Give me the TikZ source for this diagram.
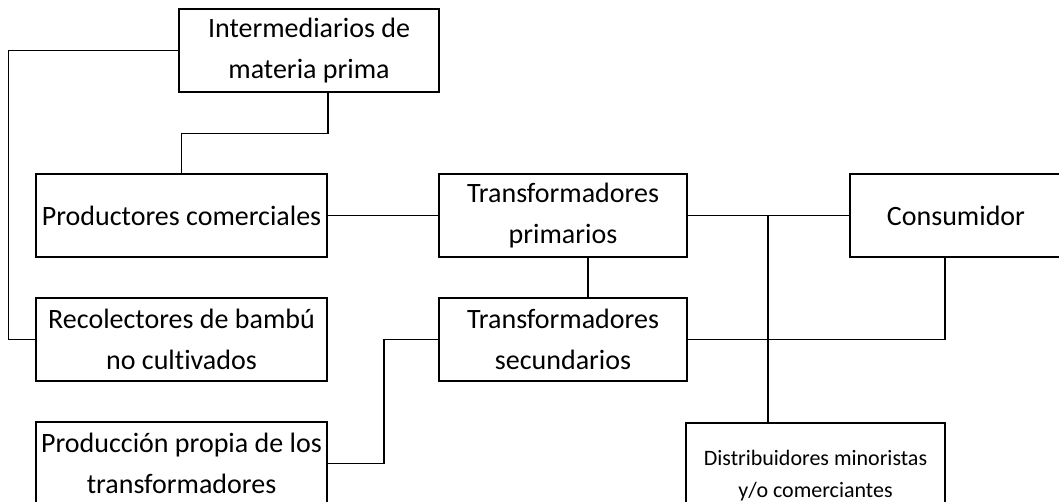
\documentclass[tikz,border=0pt]{standalone}
\usepackage{fontspec}
\setmainfont{Carlito}[Ligatures=NoCommon]
\usetikzlibrary{positioning}

\begin{document}
\begin{tikzpicture}[x=1pt, y=-1pt, line width=1.5pt,
    caja/.style={draw, align=center, inner sep=0pt, minimum height=83pt,
      font=\fontsize{28}{41}\selectfont},
    cajachica/.style={caja, font=\fontsize{22}{32}\selectfont}]

  \clip (0,0) rectangle (1059,502);

  % Eslabones de la izquierda
  \node[caja, minimum width=260pt] (inter) at (309,50.5) {Intermediarios de\\materia prima};
  \node[caja, minimum width=291pt] (prod) at (181.5,215.5) {Productores comerciales};
  \node[caja, minimum width=291pt] (recol) at (181.5,339.5) {Recolectores de bambú\\no cultivados};
  \node[caja, minimum width=291pt] (propia) at (181.5,463.5) {Producción propia de los\\transformadores};

  % Transformadores
  \node[caja, minimum width=248pt] (tprim) at (563,215.5) {Transformadores\\primarios};
  \node[caja, minimum width=248pt] (tsec) at (563,339.5) {Transformadores\\secundarios};

  % Consumo y distribucion
  \node[caja, minimum width=212pt] (cons) at (956,215.5) {Consumidor};
  \node[cajachica, minimum width=259pt, minimum height=106pt] (dist) at (815.5,476) {Distribuidores minoristas\\y/o comerciantes};

  \coordinate (nudo) at (768,215.5);

  % Conexiones
  \draw (inter.west) -- ++(-170,0) |- (recol.west);
  \draw ([xshift=19pt]inter.south) -- ++(0,41) -| (prod.north);
  \draw (prod.east) -- (tprim.west);
  \draw ([xshift=25pt]tprim.south) -- ([xshift=25pt]tsec.north);
  \draw (tprim.east) -- (cons.west);
  \draw (nudo) -- (nudo |- dist.north);
  \draw (tsec.east) -| ([xshift=-11pt]cons.south);
  \draw (propia.east) -- ++(56,0) |- (tsec.west);

\end{tikzpicture}
\end{document}
